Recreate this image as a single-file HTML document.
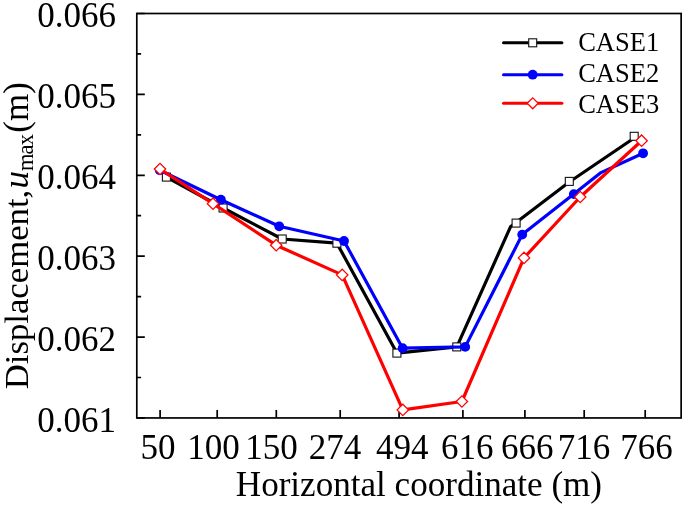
<!DOCTYPE html><html><head><meta charset="utf-8"><title>Displacement chart</title><style>html,body{margin:0;padding:0;background:#fff}svg{display:block}text{font-family:"Liberation Serif",serif;fill:#000}</style></head><body>
<svg width="685" height="507" viewBox="0 0 685 507">
<rect width="685" height="507" fill="#fff"/>
<rect x="136.8" y="13.5" width="544.35" height="404.45" fill="none" stroke="#000" stroke-width="1.7"/>
<path d="M160.1 417.95V409.95M217.2 417.95V409.95M276.3 417.95V409.95M340.2 417.95V409.95M399.1 417.95V409.95M462.9 417.95V409.95M524.9 417.95V409.95M584.2 417.95V409.95M645.2 417.95V409.95M136.8 13.50H144.8M136.8 94.39H144.8M136.8 175.28H144.8M136.8 256.17H144.8M136.8 337.06H144.8M136.8 417.95H144.8M136.8 53.95H141.1M136.8 134.84H141.1M136.8 215.72H141.1M136.8 296.62H141.1M136.8 377.50H141.1" stroke="#000" stroke-width="1.7" fill="none"/>
<polyline points="166.4,177.1 223.1,208.0 282.2,239.0 336.9,243.2 396.9,353.1 456.8,346.9 510.5,226.8 569.3,182.0 634.2,138.0" fill="none" stroke="#000" stroke-width="3.2" stroke-linejoin="round"/>
<rect x="162.4" y="173.1" width="8" height="8" fill="#fff" stroke="#111" stroke-width="1.1"/>
<rect x="219.1" y="204.0" width="8" height="8" fill="#fff" stroke="#111" stroke-width="1.1"/>
<rect x="278.2" y="235.0" width="8" height="8" fill="#fff" stroke="#111" stroke-width="1.1"/>
<rect x="332.9" y="239.2" width="8" height="8" fill="#fff" stroke="#111" stroke-width="1.1"/>
<rect x="392.9" y="349.1" width="8" height="8" fill="#fff" stroke="#111" stroke-width="1.1"/>
<rect x="452.8" y="342.9" width="8" height="8" fill="#fff" stroke="#111" stroke-width="1.1"/>
<rect x="512.1" y="219.1" width="8" height="8" fill="#fff" stroke="#111" stroke-width="1.1"/>
<rect x="565.3" y="177.4" width="8" height="8" fill="#fff" stroke="#111" stroke-width="1.1"/>
<rect x="630.2" y="132.3" width="8" height="8" fill="#fff" stroke="#111" stroke-width="1.1"/>
<polyline points="159.8,170.2 220.9,199.7 279.2,226.3 344.0,241.0 402.6,348.2 465.2,346.9 522.2,234.6 573.8,194.1 601.0,172.6 643.1,153.3" fill="none" stroke="#0000ff" stroke-width="3.2" stroke-linejoin="round"/>
<circle cx="159.8" cy="170.2" r="4.9" fill="#0000ff"/>
<circle cx="220.9" cy="199.7" r="4.9" fill="#0000ff"/>
<circle cx="279.2" cy="226.3" r="4.9" fill="#0000ff"/>
<circle cx="344.0" cy="241.0" r="4.9" fill="#0000ff"/>
<circle cx="402.6" cy="348.2" r="4.9" fill="#0000ff"/>
<circle cx="465.2" cy="346.9" r="4.9" fill="#0000ff"/>
<circle cx="522.2" cy="234.6" r="4.9" fill="#0000ff"/>
<circle cx="573.8" cy="194.1" r="4.9" fill="#0000ff"/>
<circle cx="643.1" cy="153.3" r="4.9" fill="#0000ff"/>
<polyline points="160.0,169.0 213.0,203.7 276.2,245.2 342.2,274.9 402.8,409.9 461.9,401.5 524.0,257.9 580.2,197.0 641.6,140.7" fill="none" stroke="#ff0000" stroke-width="3.2" stroke-linejoin="round"/>
<path d="M154.3 169.0L160.0 163.3L165.7 169.0L160.0 174.7Z" fill="#fff" stroke="#ff0000" stroke-width="1.25"/>
<path d="M207.3 203.7L213.0 198.0L218.7 203.7L213.0 209.4Z" fill="#fff" stroke="#ff0000" stroke-width="1.25"/>
<path d="M270.5 245.2L276.2 239.5L281.9 245.2L276.2 250.9Z" fill="#fff" stroke="#ff0000" stroke-width="1.25"/>
<path d="M336.5 274.9L342.2 269.2L347.9 274.9L342.2 280.6Z" fill="#fff" stroke="#ff0000" stroke-width="1.25"/>
<path d="M397.1 409.9L402.8 404.2L408.5 409.9L402.8 415.6Z" fill="#fff" stroke="#ff0000" stroke-width="1.25"/>
<path d="M456.2 401.5L461.9 395.8L467.6 401.5L461.9 407.2Z" fill="#fff" stroke="#ff0000" stroke-width="1.25"/>
<path d="M518.3 257.9L524.0 252.2L529.7 257.9L524.0 263.6Z" fill="#fff" stroke="#ff0000" stroke-width="1.25"/>
<path d="M574.5 197.0L580.2 191.3L585.9 197.0L580.2 202.7Z" fill="#fff" stroke="#ff0000" stroke-width="1.25"/>
<path d="M635.9 140.7L641.6 135.0L647.3 140.7L641.6 146.4Z" fill="#fff" stroke="#ff0000" stroke-width="1.25"/>
<path d="M503.5 42.8H561.9" stroke="#000" stroke-width="3" stroke-linecap="round"/>
<path d="M503.5 74.7H561.9" stroke="#0000ff" stroke-width="3" stroke-linecap="round"/>
<path d="M503.5 103.3H561.9" stroke="#ff0000" stroke-width="3" stroke-linecap="round"/>
<rect x="528.7" y="38.8" width="8" height="8" fill="#fff" stroke="#111" stroke-width="1.1"/>
<circle cx="532.7" cy="74.7" r="4.9" fill="#0000ff"/>
<path d="M527.2 103.3L532.7 97.8L538.2 103.3L532.7 108.8Z" fill="#fff" stroke="#ff0000" stroke-width="1.25"/>
<text x="578.2" y="50.5" font-size="26.5">CASE1</text>
<text x="578.2" y="82.1" font-size="26.5">CASE2</text>
<text x="578.2" y="113.0" font-size="26.5">CASE3</text>
<text x="116" y="27.4" font-size="35" text-anchor="end">0.066</text>
<text x="116" y="108.3" font-size="35" text-anchor="end">0.065</text>
<text x="116" y="189.2" font-size="35" text-anchor="end">0.064</text>
<text x="116" y="270.1" font-size="35" text-anchor="end">0.063</text>
<text x="116" y="351.0" font-size="35" text-anchor="end">0.062</text>
<text x="116" y="431.8" font-size="35" text-anchor="end">0.061</text>
<text x="158.0" y="459.4" font-size="35" text-anchor="middle">50</text>
<text x="213.5" y="459.4" font-size="35" text-anchor="middle">100</text>
<text x="271.5" y="459.4" font-size="35" text-anchor="middle">150</text>
<text x="335.0" y="459.4" font-size="35" text-anchor="middle">274</text>
<text x="402.2" y="459.4" font-size="35" text-anchor="middle">494</text>
<text x="467.2" y="459.4" font-size="35" text-anchor="middle">616</text>
<text x="527.3" y="459.4" font-size="35" text-anchor="middle">666</text>
<text x="584.0" y="459.4" font-size="35" text-anchor="middle">716</text>
<text x="646.5" y="459.4" font-size="35" text-anchor="middle">766</text>
<text x="235.8" y="495.6" font-size="35.1">Horizontal coordinate (m)</text>
<text transform="translate(28.4 389.2) rotate(-90)" font-size="35"><tspan font-size="34.7">Displacement,</tspan><tspan font-style="italic" dx="1.3">u</tspan><tspan font-size="22.5" dy="4.5" letter-spacing="-0.9">max</tspan><tspan dy="-4.5" dx="2.3">(m)</tspan></text>
</svg></body></html>
